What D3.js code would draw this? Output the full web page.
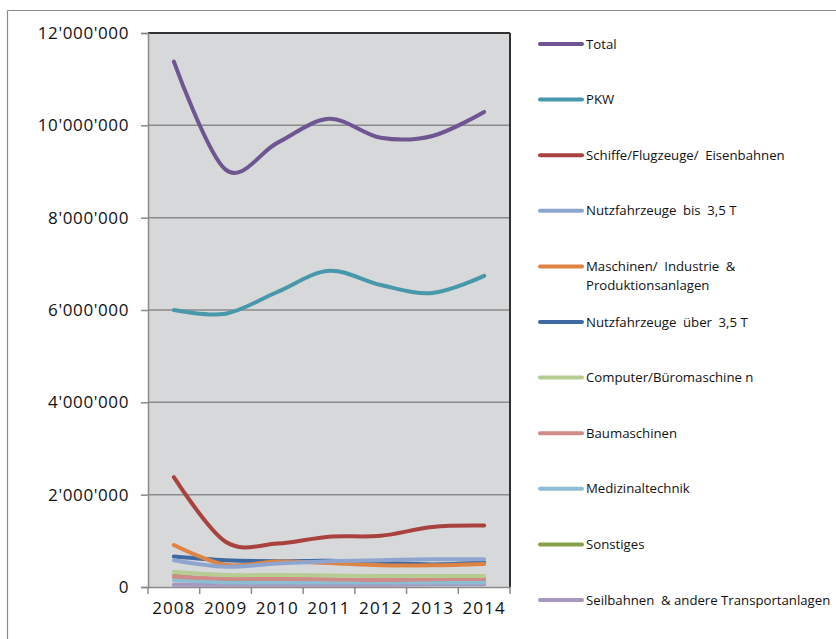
<!DOCTYPE html>
<html>
<head>
<meta charset="utf-8">
<script src="https://cdn.jsdelivr.net/npm/d3@7"></script>
<style>
  html, body { margin: 0; padding: 0; background: #fff; }
  svg { display: block; }
  text { font-family: "Open Sans", Lato, sans-serif; fill: #111; }
</style>
</head>
<body>
<svg id="chart"></svg>
<script>
// data (values in units)
var years = ["2008", "2009", "2010", "2011", "2012", "2013", "2014"];
var yTicks = [0, 2000000, 4000000, 6000000, 8000000, 10000000, 12000000];

var seriesNames = [
  "Total", "PKW", "Schiffe/Flugzeuge/\u2002Eisenbahnen", "Nutzfahrzeuge\u2002bis\u20023,5 T",
  "Maschinen/\u2002Industrie\u2002&|Produktionsanlagen", "Nutzfahrzeuge\u2002über\u20023,5 T",
  "Computer/Büromaschine n", "Baumaschinen", "Medizinaltechnik", "Sonstiges",
  "Seilbahnen\u2002& andere Transportanlagen"
];
var seriesColors = [
  "#6f5591", "#4698aa", "#a9423f", "#8ea6cf", "#dd8444", "#3f6aa1",
  "#b6cc93", "#d08b89", "#8cbdd2", "#86a04c", "#a698bf"
];

var total       = [11380000, 9040000, 9620000, 10140000, 9730000, 9770000, 10290000];
var pkw         = [6000000, 5920000, 6390000, 6850000, 6540000, 6370000, 6740000];
var schiffe     = [2380000, 980000, 940000, 1090000, 1110000, 1300000, 1330000];
var nutzBis     = [580000, 440000, 510000, 560000, 580000, 600000, 600000];
var maschinen   = [910000, 480000, 550000, 520000, 470000, 470000, 500000];
var nutzUeber   = [660000, 580000, 560000, 570000, 530000, 490000, 530000];
var computer    = [330000, 260000, 260000, 250000, 240000, 240000, 240000];
var baumasch    = [220000, 180000, 180000, 170000, 150000, 170000, 180000];
var medizin     = [150000, 100000, 100000, 100000, 100000, 100000, 100000];
var sonstiges   = [240000, 150000, 140000, 130000, 120000, 120000, 120000];
var seilbahnen  = [50000, 50000, 50000, 50000, 50000, 60000, 60000];

var seriesValues = [total, pkw, schiffe, nutzBis, maschinen, nutzUeber,
                    computer, baumasch, medizin, sonstiges, seilbahnen];

var width = 836, height = 639;
var margin = { left: 148, top: 33, right: 326, bottom: 52 };
var innerWidth = width - margin.left - margin.right;
var innerHeight = height - margin.top - margin.bottom;

var svg = d3.select("#chart").attr("width", width).attr("height", height);

// outer chart border (only top & left edges are inside the frame)
svg.append("line").attr("x1", 7.5).attr("x2", 7.5).attr("y1", 10.5).attr("y2", height)
  .attr("stroke", "#8c8c8c").attr("stroke-width", 1.2);
svg.append("line").attr("x1", 7.5).attr("x2", width).attr("y1", 10.5).attr("y2", 10.5)
  .attr("stroke", "#8c8c8c").attr("stroke-width", 1.2);

var g = svg.append("g").attr("transform", "translate(" + margin.left + "," + margin.top + ")");

var x = d3.scaleBand().domain(years).range([0, innerWidth]);
var y = d3.scaleLinear().domain([0, 12000000]).range([innerHeight, 0]);

// plot background
g.append("rect")
  .attr("width", innerWidth).attr("height", innerHeight)
  .attr("fill", "#d7d8da");

// gridlines
g.append("g").selectAll("line")
  .data(yTicks.slice(1, -1))
  .enter().append("line")
  .attr("x1", 0).attr("x2", innerWidth)
  .attr("y1", function(d) { return y(d); }).attr("y2", function(d) { return y(d); })
  .attr("stroke", "#8a8a8a").attr("stroke-width", 1.5);

// top and right border of the plot
g.append("line").attr("x1", 0).attr("x2", innerWidth).attr("y1", 0).attr("y2", 0)
  .attr("stroke", "#333").attr("stroke-width", 2);
g.append("line").attr("x1", innerWidth).attr("x2", innerWidth).attr("y1", 0).attr("y2", innerHeight)
  .attr("stroke", "#333").attr("stroke-width", 2);

var axisFont = "'Open Sans', Lato, sans-serif";

// y axis
var fmt = function(d) { return d3.format(",")(d).replace(/,/g, "'"); };
var yAxisG = g.append("g").call(d3.axisLeft(y).tickValues(yTicks).tickFormat(fmt).tickSize(7).tickPadding(12));
yAxisG.select(".domain").attr("stroke", "#8a8a8a").attr("stroke-width", 1.5);
yAxisG.selectAll(".tick line").attr("stroke", "#8a8a8a").attr("stroke-width", 1.5);
yAxisG.selectAll("text").attr("font-size", 17).attr("font-family", axisFont)
  .attr("letter-spacing", 0.6).attr("fill", "#111");

// x axis
var xAxisG = g.append("g").attr("transform", "translate(0," + innerHeight + ")")
  .call(d3.axisBottom(x).tickSize(0).tickPadding(15));
xAxisG.select(".domain").attr("stroke", "#8a8a8a").attr("stroke-width", 1.5);
xAxisG.selectAll("text").attr("font-size", 17).attr("font-family", axisFont)
  .attr("letter-spacing", 1.1).attr("fill", "#111");
// tick marks between categories
g.append("g").selectAll("line")
  .data(years.concat(["end"]))
  .enter().append("line")
  .attr("x1", function(d, i) { return i * x.bandwidth(); })
  .attr("x2", function(d, i) { return i * x.bandwidth(); })
  .attr("y1", innerHeight).attr("y2", innerHeight + 7)
  .attr("stroke", "#8a8a8a").attr("stroke-width", 1.5);

// lines, drawn bottom-most series first like the original
var line = d3.line()
  .x(function(d, i) { return x(years[i]) + x.bandwidth() / 2; })
  .y(function(d) { return y(d); })
  .curve(d3.curveCardinal.tension(0));

var order = d3.range(seriesValues.length).reverse();
g.append("g").selectAll("path")
  .data(order)
  .enter().append("path")
  .attr("d", function(i) { return line(seriesValues[i]); })
  .attr("fill", "none")
  .attr("stroke", function(i) { return seriesColors[i]; })
  .attr("stroke-width", 4)
  .attr("stroke-linecap", "round");

// legend
var legend = svg.append("g").attr("transform", "translate(540,44)");
var item = legend.selectAll("g")
  .data(seriesNames)
  .enter().append("g")
  .attr("transform", function(d, i) { return "translate(0," + (i * 55.6) + ")"; });

item.append("line")
  .attr("x1", 0).attr("x2", 42).attr("y1", 0).attr("y2", 0)
  .attr("stroke", function(d, i) { return seriesColors[i]; })
  .attr("stroke-width", 4).attr("stroke-linecap", "round");

item.append("text")
  .attr("x", 46).attr("y", 4.5)
  .attr("font-size", 13.2)
  .each(function(d) {
    var parts = d.split("|");
    var t = d3.select(this);
    parts.forEach(function(p, k) {
      t.append("tspan").attr("x", 46).attr("dy", k === 0 ? 0 : 19).text(p);
    });
  });
</script>
</body>
</html>
